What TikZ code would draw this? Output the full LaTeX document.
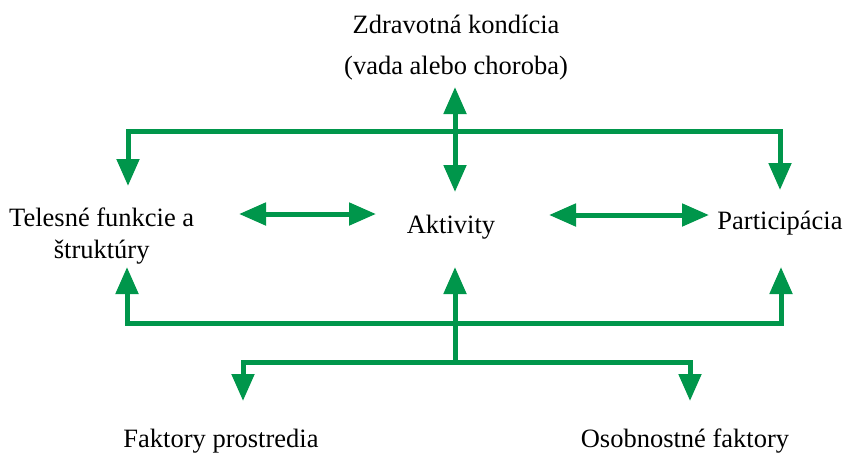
\documentclass[tikz,border=0pt]{standalone}
\usepackage{fontspec}
\setmainfont{Liberation Serif}
\usetikzlibrary{arrows.meta}
\definecolor{icfgreen}{RGB}{0,150,75}
\begin{document}
\begin{tikzpicture}[x=1pt,y=-1pt,
  conn/.style={draw=icfgreen,line width=5pt},
  tip/.style={-{Triangle[width=22pt,length=27pt]}},
  dtip/.style={{Triangle[width=22pt,length=27pt]}-{Triangle[width=22pt,length=27pt]}},
  lbl/.style={font=\fontsize{26.5}{32}\selectfont,inner sep=0pt,anchor=base}]
\useasboundingbox (0,0) rectangle (845,456);
% texts
\node[lbl] (zk) at (456,33) {Zdravotná kondícia};
\node[lbl] (vc) at (456,74) {(vada alebo choroba)};
\node[lbl,align=center,anchor=base west] (tf) at (9,258) {Telesné funkcie a\\štruktúry};
\node[lbl] (ak) at (451,233) {Aktivity};
\node[lbl] (pa) at (780,229) {Participácia};
\node[lbl] (fp) at (221,447) {Faktory prostredia};
\node[lbl] (of) at (685,447) {Osobnostné faktory};
% junction coordinates
\coordinate (tl) at (128,131);
\coordinate (tc) at (455,131);
\coordinate (tr) at (780,131);
\coordinate (bl) at (127,323);
\coordinate (bc) at (455,323);
\coordinate (br) at (781,323);
\coordinate (lc) at (455,362);
\coordinate (ll) at (243,362);
\coordinate (lr) at (690,362);
% arrow tip coordinates
\coordinate (tlT) at (128,186);
\coordinate (tcU) at (455,87);
\coordinate (tcD) at (455,192);
\coordinate (trT) at (780,190);
\coordinate (blT) at (127,267);
\coordinate (bcT) at (455,267);
\coordinate (brT) at (781,267);
\coordinate (llT) at (243,401);
\coordinate (lrT) at (690,401);
\coordinate (h1a) at (239,214);
\coordinate (h1b) at (376,214);
\coordinate (h2a) at (549,215);
\coordinate (h2b) at (709,215);
% top connectors
\draw[conn,dtip] (tlT) -- (tl) -- (tr) -- (trT);
\draw[conn,dtip] (tcU) -- (tcD);
% horizontal double arrows
\draw[conn,dtip] (h1a) -- (h1b);
\draw[conn,dtip] (h2a) -- (h2b);
% bottom connectors
\draw[conn,dtip] (blT) -- (bl) -- (br) -- (brT);
\draw[conn,tip] (lc) -- (bcT);
\draw[conn,dtip] (llT) -- (ll) -- (lr) -- (lrT);
\end{tikzpicture}
\end{document}
